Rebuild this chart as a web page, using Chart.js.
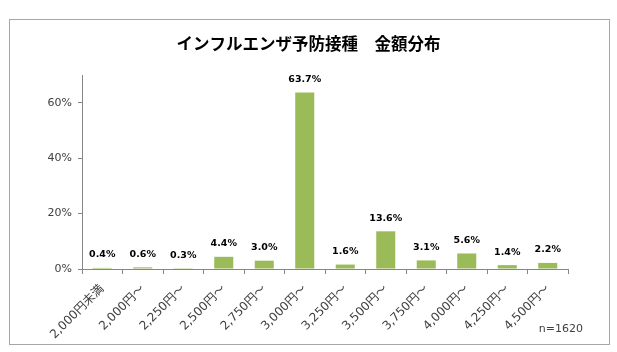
<!DOCTYPE html>
<html>
<head>
<meta charset="utf-8">
<script src="https://cdn.jsdelivr.net/npm/chart.js@4"></script>
<style>
    html, body { margin: 0; padding: 0; background: #fff; }
    #wrap { width: 617px; height: 352px; }
</style>
</head>
<body>
<div id="wrap"><canvas id="priceChart" width="617" height="352"></canvas></div>
<script>
const chartTitle = 'インフルエンザ予防接種　金額分布';
const categories = ['2,000円未満', '2,000円～', '2,250円～', '2,500円～', '2,750円～', '3,000円～',
    '3,250円～', '3,500円～', '3,750円～', '4,000円～', '4,250円～', '4,500円～'];
const shares = [0.4, 0.6, 0.3, 4.4, 3.0, 63.7, 1.6, 13.6, 3.1, 5.6, 1.4, 2.2];
const yTicks = [0, 20, 40, 60];
const sampleNote = 'n=1620';

const tickFont = "'DejaVu Sans', 'Noto Sans CJK JP', sans-serif";

// title, values above the bars, frame and sample size
const labelsPlugin = {
    id: 'barLabels',
    afterDatasetsDraw(chart) {
        const ctx = chart.ctx;
        const meta = chart.getDatasetMeta(0);
        ctx.save();
        ctx.font = "bold 9.5px 'DejaVu Sans', sans-serif";
        ctx.fillStyle = '#000';
        ctx.textAlign = 'center';
        ctx.textBaseline = 'middle';
        meta.data.forEach(function (bar, i) {
            ctx.fillText(shares[i].toFixed(1) + '%', bar.x, bar.y - 13);
        });
        ctx.restore();
    },
    afterDraw(chart) {
        const ctx = chart.ctx;
        ctx.save();
        ctx.strokeStyle = '#a6a6a6';
        ctx.lineWidth = 1;
        ctx.strokeRect(9.5, 19.5, 600, 325);

        ctx.font = "bold 16.5px 'Noto Sans CJK JP', sans-serif";
        ctx.fillStyle = '#000';
        ctx.textAlign = 'center';
        ctx.textBaseline = 'middle';
        ctx.fillText(chartTitle, 308.5, 44);

        ctx.font = "11px 'DejaVu Sans', sans-serif";
        ctx.fillStyle = '#404040';
        ctx.textAlign = 'right';
        ctx.fillText(sampleNote, 583, 329);
        ctx.restore();
    }
};

const ctx = document.getElementById('priceChart').getContext('2d');
var chart = new Chart(ctx, {
    type: 'bar',
    data: {
        labels: categories,
        datasets: [{
            data: shares,
            backgroundColor: '#9bbb59',
            borderWidth: 0,
            barPercentage: 0.47,
            categoryPercentage: 1
        }]
    },
    options: {
        responsive: false,
        animation: false,
        layout: { padding: { left: 10, right: 49, top: 75, bottom: 0 } },
        plugins: {
            legend: { display: false },
            tooltip: { enabled: false },
            title: { display: false }
        },
        scales: {
            x: {
                grid: { display: true, drawOnChartArea: false, offset: true, tickLength: 5, color: '#868686' },
                border: { color: '#868686' },
                ticks: {
                    autoSkip: false,
                    minRotation: 45,
                    maxRotation: 45,
                    padding: 8,
                    color: '#404040',
                    font: { family: tickFont, size: 12 }
                },
                afterFit(scale) { scale.height = 83; }
            },
            y: {
                min: 0,
                max: 70,
                grid: { drawOnChartArea: false, tickLength: 4, color: '#868686' },
                border: { color: '#868686' },
                ticks: {
                    stepSize: 20,
                    padding: 6,
                    color: '#404040',
                    font: { family: tickFont, size: 11 },
                    callback: function (v) { return v + '%'; }
                },
                afterBuildTicks(scale) {
                    scale.ticks = yTicks.map(function (v) { return { value: v }; });
                },
                afterFit(scale) { scale.width = 72; }
            }
        }
    },
    plugins: [labelsPlugin]
});
</script>
</body>
</html>
